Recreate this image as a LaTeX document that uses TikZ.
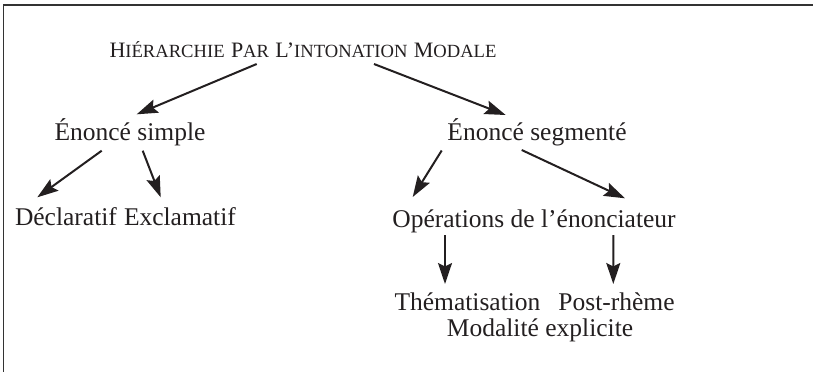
\documentclass[tikz,border=0pt]{standalone}
\usepackage{fontspec}
\setmainfont{Liberation Serif}
\usetikzlibrary{arrows.meta}
\definecolor{ink}{HTML}{231F20}
\newcommand{\scw}[2]{{\fontsize{22bp}{26bp}\selectfont #1}{\fontsize{18.6bp}{26bp}\selectfont #2}}
\begin{document}
\begin{tikzpicture}[x=1bp,y=-1bp,
  lbl/.style={inner sep=0pt, outer sep=0pt, text=ink, font=\fontsize{25.5bp}{30bp}\selectfont},
  arr/.style={draw=ink, line width=2bp, -{Stealth[length=21bp,width=14bp,inset=3.5bp]}},
  frame/.style={draw=black!80, line width=1.8bp}]
\useasboundingbox (0,0) rectangle (813,372);
\draw[frame] (813,5) -- (3.5,5) -- (3.5,372);
% nodes
\node[lbl, anchor=base] (t) at (303,57) {\scw{H}{IÉRARCHIE} \scw{P}{AR} \scw{L’}{INTONATION} \scw{M}{ODALE}};
\node[lbl, anchor=base] (es) at (130,140) {Énoncé simple};
\node[lbl, anchor=base] (eg) at (537,140) {Énoncé segmenté};
\node[lbl, anchor=base west] (d) at (15,225) {Déclaratif};
\node[lbl, anchor=base west] (e) at (124,225) {Exclamatif};
\node[lbl, anchor=base] (op) at (534,227) {Opérations de l’énonciateur};
\node[lbl, anchor=base] (th) at (467.5,310) {Thématisation};
\node[lbl, anchor=base] (pr) at (616.5,310) {Post-rhème};
\node[lbl, anchor=base] (mo) at (540,336.7) {Modalité explicite};
% connectors
\draw[arr] ([shift={(-46.3,7)}]t.base) -- ([shift={(6.7,-25.7)}]es.base);
\draw[arr] ([shift={(71,7)}]t.base) -- ([shift={(-31.3,-25)}]eg.base);
\draw[arr] ([shift={(-28.3,10.7)}]es.base) -- ([shift={(22.3,-27.7)}]d.base west);
\draw[arr] ([shift={(12.7,10.7)}]es.base) -- ([shift={(36.7,-27.7)}]e.base west);
\draw[arr] ([shift={(-95.3,10.5)}]eg.base) -- ([shift={(-121.3,-30)}]op.base);
\draw[arr] ([shift={(-15.3,10)}]eg.base) -- ([shift={(91,-28.7)}]op.base);
\draw[arr] ([shift={(-89,8)}]op.base) -- ([shift={(-22.5,-26)}]th.base);
\draw[arr] ([shift={(79.3,8)}]op.base) -- ([shift={(-3.2,-26)}]pr.base);
\end{tikzpicture}
\end{document}
